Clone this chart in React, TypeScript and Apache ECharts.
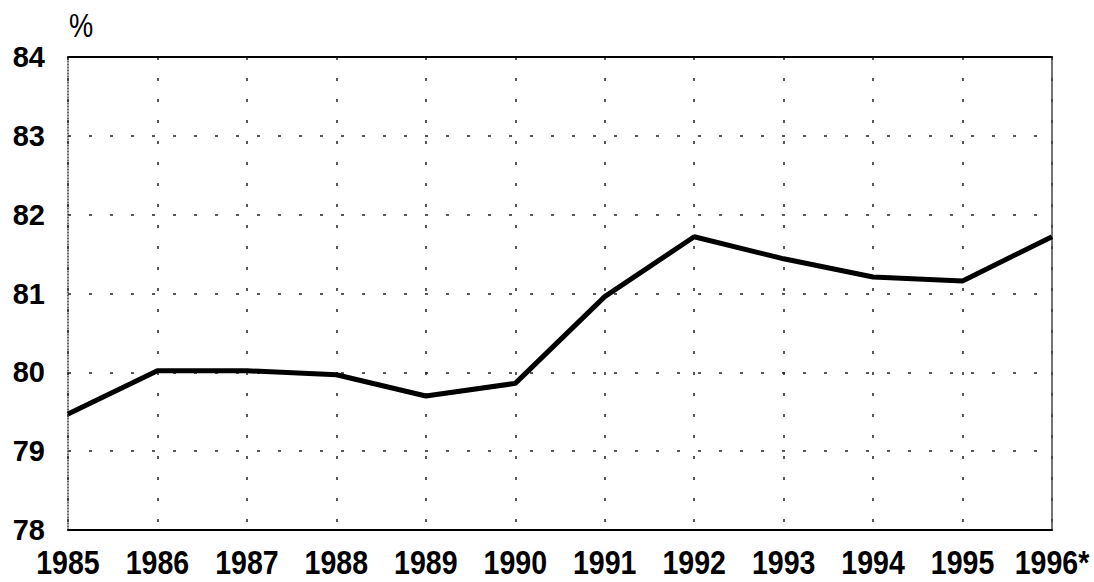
import React, { useEffect, useRef } from 'react';
import * as echarts from 'echarts';

const years = ['1985', '1986', '1987', '1988', '1989', '1990', '1991', '1992', '1993', '1994', '1995', '1996*'];
const shares = [79.47, 80.02, 80.02, 79.97, 79.7, 79.86, 80.96, 81.72, 81.44, 81.21, 81.16, 81.72];
const unitLabel = '%';
const yMin = 78;

const App: React.FC = () => {
  const chartRef = useRef<HTMLDivElement>(null);

  useEffect(() => {
    if (!chartRef.current) return;
    const chart = echarts.init(chartRef.current, undefined, { renderer: 'svg' });

    const gridDash = { color: '#222', width: 1.5, type: [3, 18] as number[] };

    chart.setOption({
      animation: false,
      backgroundColor: '#fff',
      grid: { left: 68, right: 42, top: 57, bottom: 52, containLabel: false },
      xAxis: [
        {
          type: 'category',
          data: years,
          boundaryGap: false,
          axisLine: { show: true, lineStyle: { color: '#000', width: 2 } },
          axisTick: { show: false },
          axisLabel: { show: false },
          splitLine: { show: true, lineStyle: gridDash },
        },
        {
          type: 'category',
          data: years,
          boundaryGap: false,
          position: 'top',
          axisLine: { show: true, onZero: false, lineStyle: { color: '#000', width: 2 } },
          axisTick: { show: false },
          axisLabel: { show: false },
          splitLine: { show: false },
        },
      ],
      yAxis: [
        {
          type: 'value',
          min: yMin,
          max: 84,
          interval: 1,
          axisLine: { show: true, lineStyle: { color: '#333', width: 1.5, type: [1, 2] } },
          axisTick: { show: false },
          axisLabel: {
            margin: 23,
            color: '#000',
            fontSize: 29,
            fontWeight: 'bold',
            fontFamily: '"Liberation Sans", Arial, sans-serif',
          },
          splitLine: { show: true, lineStyle: gridDash },
        },
        {
          type: 'value',
          min: yMin,
          max: 84,
          interval: 1,
          position: 'right',
          axisLine: { show: true, onZero: false, lineStyle: { color: '#444', width: 1.5 } },
          axisTick: { show: false },
          axisLabel: { show: false },
          splitLine: { show: false },
        },
      ],
      series: [
        {
          type: 'line',
          data: shares,
          xAxisIndex: 0,
          yAxisIndex: 0,
          symbol: 'none',
          lineStyle: { color: '#000', width: 5 },
          z: 5,
        },
      ],
    });

    // condensed year labels, placed under each category through the axis scale
    const yearLabels = years.map((label, i) => {
      const [px, py] = chart.convertToPixel({ seriesIndex: 0 }, [i, yMin]) as number[];
      return {
        type: 'text',
        x: px,
        y: py + 33,
        scaleX: 0.84,
        style: {
          text: label,
          font: 'bold 34px "Liberation Sans", Arial, sans-serif',
          fill: '#000',
          align: 'center',
          verticalAlign: 'middle',
        },
      };
    });

    chart.setOption({
      graphic: [
        {
          type: 'text',
          x: 69,
          y: 8,
          scaleX: 0.8,
          style: {
            text: unitLabel,
            font: '34px "Liberation Sans", Arial, sans-serif',
            fill: '#000',
            align: 'left',
            verticalAlign: 'top',
          },
        },
        ...yearLabels,
      ],
    });

    return () => {
      chart.dispose();
    };
  }, []);

  return (
    <div
      ref={chartRef}
      style={{ position: 'absolute', left: 0, top: 0, width: '1094px', height: '582px' }}
    />
  );
};

export default App;
